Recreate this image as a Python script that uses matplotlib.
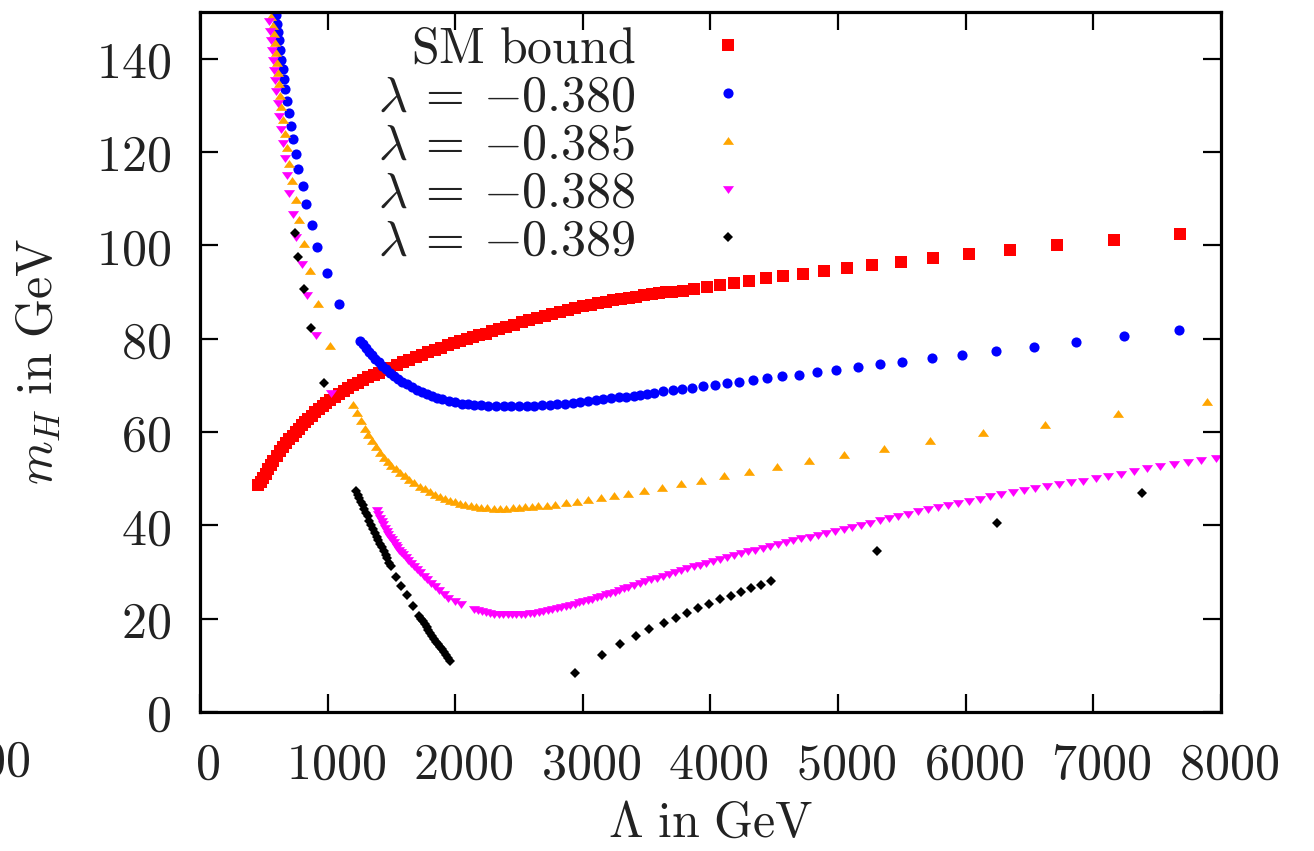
import numpy as np
import matplotlib
matplotlib.use("Agg")
import matplotlib.pyplot as plt
from matplotlib.ticker import FuncFormatter, MultipleLocator
from matplotlib.transforms import ScaledTranslation

plt.rcParams["mathtext.fontset"] = "cm"

# SM stability bound, m_H vs cutoff Lambda (GeV)
sm_lam = [455, 475, 495, 515, 535, 555, 575, 600, 625, 650, 675, 700, 725, 750,
          775, 800, 825, 850, 875, 900, 930, 960, 990, 1020, 1055, 1090, 1125,
          1160, 1200, 1240, 1280, 1320, 1360, 1400, 1445, 1490, 1540, 1590, 1640,
          1690, 1740, 1790, 1840, 1890, 1940, 1990, 2040, 2090, 2140, 2190, 2240,
          2290, 2340, 2400, 2460, 2520, 2580, 2640, 2700, 2760, 2820, 2880, 2940,
          3000, 3060, 3120, 3180, 3240, 3300, 3360, 3420, 3480, 3540, 3600, 3650,
          3700, 3786, 3873, 3975, 4077, 4187, 4304, 4438, 4570, 4726, 4889, 5072,
          5268, 5495, 5747, 6028, 6347, 6719, 7161, 7678]
sm_mh = [48.6, 49.3, 50.2, 51.1, 52.0, 52.9, 53.8, 54.9, 55.9, 56.8, 57.6, 58.4,
         59.2, 60.0, 60.7, 61.4, 62.1, 62.8, 63.5, 64.2, 64.9, 65.6, 66.3, 66.9,
         67.6, 68.2, 68.8, 69.4, 70.0, 70.6, 71.2, 71.7, 72.2, 72.7, 73.2, 73.7,
         74.3, 74.9, 75.5, 76.1, 76.6, 77.1, 77.6, 78.1, 78.6, 79.0, 79.4, 79.9,
         80.3, 80.7, 81.1, 81.6, 82.0, 82.5, 83.0, 83.5, 84.0, 84.5, 84.9, 85.3,
         85.7, 86.1, 86.5, 86.9, 87.2, 87.6, 87.9, 88.2, 88.5, 88.8, 89.0, 89.3,
         89.5, 89.7, 89.9, 90.0, 90.3, 90.7, 91.1, 91.6, 92.0, 92.4, 92.9, 93.4,
         93.9, 94.5, 95.1, 95.8, 96.4, 97.2, 98.1, 98.9, 100.1, 101.1, 102.4]

# lambda = -0.380
l380_lam = [595, 606, 613, 621, 629, 637, 648, 658, 669, 684, 697, 713, 731, 750,
            770, 805, 831, 877, 919, 995, 1092,
            1254, 1275, 1300, 1325, 1350, 1375, 1400, 1430, 1460, 1490, 1520, 1550,
            1585, 1620, 1660, 1700, 1740, 1780, 1820, 1860, 1900, 1950, 2000, 2050,
            2100, 2150, 2200, 2260, 2320, 2380, 2440, 2500, 2560, 2620, 2680, 2740,
            2800, 2860, 2920, 2980, 3040, 3100, 3160, 3220, 3280, 3340, 3400, 3450,
            3500, 3560, 3630, 3703, 3779, 3858, 3944, 4033, 4129, 4226, 4333, 4443,
            4564, 4694, 4836, 4987, 5152, 5327, 5503, 5734, 5973, 6239, 6533, 6863,
            7240, 7668]
l380_mh = [149.4, 147.5, 145.7, 143.9, 141.9, 139.8, 137.8, 135.7, 133.4, 130.9,
           128.4, 125.6, 122.8, 119.6, 116.4, 112.8, 108.9, 104.3, 99.6, 94.0, 87.5,
           79.6, 78.9, 78.0, 77.2, 76.4, 75.7, 75.0, 74.2, 73.4, 72.7, 72.0, 71.4,
           70.8, 70.2, 69.6, 69.0, 68.5, 68.1, 67.7, 67.3, 67.0, 66.7, 66.4, 66.1,
           65.9, 65.8, 65.7, 65.6, 65.5, 65.5, 65.5, 65.5, 65.6, 65.6, 65.7, 65.8,
           66.0, 66.1, 66.3, 66.5, 66.6, 66.8, 67.0, 67.2, 67.4, 67.6, 67.8, 68.0,
           68.2, 68.4, 68.7, 69.0, 69.3, 69.5, 69.8, 70.1, 70.4, 70.8, 71.2, 71.6,
           71.9, 72.3, 72.8, 73.3, 73.9, 74.5, 75.1, 75.8, 76.6, 77.4, 78.3, 79.3,
           80.5, 81.8]

# lambda = -0.385
l385_lam = [556, 569, 580, 588, 595, 603, 611, 619, 627, 637, 653, 669, 684, 700,
            723, 750, 778, 815, 862, 922, 1019,
            1201, 1230, 1260, 1290, 1320, 1350, 1380, 1410, 1440, 1470, 1500, 1535,
            1570, 1605, 1640, 1680, 1720, 1760, 1800, 1840, 1880, 1920, 1960, 2000,
            2040, 2080, 2120, 2160, 2200, 2250, 2300, 2350, 2400, 2450, 2500, 2550,
            2600, 2650, 2717, 2782, 2865, 2951, 3037, 3139, 3241, 3357, 3483, 3620,
            3770, 3925, 4107, 4303, 4523, 4769, 5047, 5359, 5719, 6132, 6622, 7195,
            7889]
l385_mh = [148.9, 147.1, 145.3, 143.4, 141.2, 139.1, 136.9, 134.6, 132.1, 129.7,
           126.9, 123.9, 120.9, 117.5, 113.7, 109.8, 105.5, 100.3, 94.4, 87.5, 78.5,
           65.8, 64.0, 62.3, 60.7, 59.3, 58.0, 56.8, 55.6, 54.5, 53.6, 52.8, 52.0,
           51.3, 50.5, 49.8, 49.0, 48.3, 47.7, 47.1, 46.6, 46.1, 45.6, 45.2, 44.9,
           44.6, 44.3, 44.1, 43.9, 43.8, 43.7, 43.6, 43.6, 43.6, 43.7, 43.8, 43.9,
           44.0, 44.1, 44.2, 44.4, 44.7, 45.1, 45.4, 45.8, 46.3, 46.8, 47.4, 48.1,
           48.8, 49.6, 50.5, 51.5, 52.6, 53.8, 55.0, 56.4, 58.0, 59.7, 61.6, 63.8,
           66.5]

# lambda = -0.388
l388_lam = [543, 551, 559, 567, 575, 582, 590, 598, 609, 622, 635, 650, 666, 684,
            700, 726, 755, 797, 838, 909, 1024,
            1384, 1397, 1410, 1423, 1436, 1449, 1462, 1476, 1489, 1503, 1517, 1532,
            1547, 1562, 1578, 1593, 1612, 1632, 1654, 1677, 1700, 1725, 1752, 1780,
            1810, 1842, 1875, 1910, 1947, 1995, 2048,
            2150, 2180, 2210, 2240, 2272, 2305, 2340, 2375, 2410, 2445, 2480, 2515,
            2550, 2586, 2620, 2655, 2690, 2725, 2760, 2795, 2830, 2865, 2900, 2935,
            2970, 3005, 3040, 3075, 3110, 3145, 3180, 3215, 3250, 3285, 3320, 3356,
            3400, 3445, 3490, 3535, 3580, 3625, 3672, 3720, 3768, 3817, 3867, 3917,
            3968, 4020, 4073, 4127, 4182, 4237, 4293, 4350, 4408, 4467, 4527, 4588,
            4650, 4713, 4777, 4842, 4908, 4975, 5043, 5112, 5182, 5253, 5325, 5398,
            5472, 5547, 5624, 5702, 5781, 5861, 5942, 6024, 6108, 6193, 6279, 6367,
            6456, 6546, 6637, 6730, 6824, 6920, 7017, 7116, 7216, 7317, 7420, 7524,
            7630, 7738, 7847, 7958]
l388_mh = [148.0, 146.0, 144.1, 141.9, 139.8, 137.6, 135.4, 133.0, 130.4, 127.8,
           124.9, 121.9, 118.7, 115.1, 111.2, 106.7, 101.8, 96.1, 89.4, 80.7, 68.3,
           43.2, 42.4, 41.6, 40.9, 40.2, 39.5, 38.8, 38.2, 37.6, 37.0, 36.4, 35.8,
           35.3, 34.8, 34.3, 33.8, 33.2, 32.6, 31.9, 31.2, 30.6, 29.9, 29.2, 28.5,
           27.7, 26.9, 26.1, 25.3, 24.5, 23.8, 23.2,
           22.0, 21.8, 21.6, 21.4, 21.3, 21.1, 21.0, 20.9, 20.9, 20.9, 20.9, 21.0,
           21.1, 21.2, 21.3, 21.5, 21.6, 21.8, 22.0, 22.2, 22.5, 22.7, 23.0, 23.2,
           23.5, 23.7, 24.0, 24.3, 24.6, 24.9, 25.2, 25.4, 25.8, 26.1, 26.5, 26.8,
           27.2, 27.6, 28.0, 28.4, 28.8, 29.2, 29.6, 30.0, 30.4, 30.8, 31.2, 31.6,
           32.0, 32.4, 32.8, 33.2, 33.6, 34.0, 34.4, 34.8, 35.2, 35.6, 36.0, 36.4,
           36.8, 37.2, 37.6, 38.0, 38.4, 38.8, 39.2, 39.7, 40.1, 40.6, 41.1, 41.6,
           42.0, 42.5, 43.0, 43.5, 43.9, 44.4, 44.8, 45.3, 45.7, 46.2, 46.7, 47.1,
           47.5, 47.9, 48.4, 48.8, 49.2, 49.6, 50.1, 50.6, 51.1, 51.7, 52.2, 52.7,
           53.1, 53.5, 53.9, 54.4]

# lambda = -0.389
l389_lam = [744, 770, 818, 873, 972,
            1222, 1235, 1248, 1262, 1275, 1288, 1301, 1314, 1328, 1342, 1356, 1370,
            1384, 1398, 1412, 1426, 1440, 1454, 1468, 1482, 1496,
            1536, 1573, 1619, 1666,
            1715, 1730, 1745, 1760, 1775, 1790, 1805, 1820, 1835, 1850, 1865, 1880,
            1895, 1910, 1925, 1940, 1960,
            2941, 3148, 3291, 3414, 3522, 3635, 3727, 3816, 3902, 3990, 4074, 4158,
            4239, 4320, 4398, 4476,
            5303, 6246, 7382]
l389_mh = [102.7, 97.4, 90.7, 82.3, 70.5,
           47.4, 46.6, 45.8, 45.0, 44.3, 43.5, 42.7, 41.9, 41.0, 40.1, 39.2, 38.4,
           37.6, 36.8, 36.0, 35.3, 34.5, 33.7, 32.9, 32.0, 31.2,
           28.9, 27.1, 25.1, 22.8,
           20.6, 20.0, 19.4, 18.8, 18.2, 17.5, 16.9, 16.3, 15.7, 15.1, 14.6, 14.0,
           13.4, 12.8, 12.2, 11.6, 10.9,
           8.3, 12.2, 14.5, 16.3, 17.7, 19.0, 20.2, 21.3, 22.2, 23.2, 24.2, 24.9,
           25.8, 26.5, 27.3, 28.1,
           34.6, 40.6, 46.9]

# gnuplot-like wide triangles
TRI_UP = [(-1, -0.6), (1, -0.6), (0, 0.8), (-1, -0.6)]
TRI_DOWN = [(-1, 0.6), (1, 0.6), (0, -0.8), (-1, 0.6)]

fig = plt.figure(figsize=(13.14, 8.51), dpi=100)
ax = fig.add_axes([0.1522, 0.1633, 0.7770, 0.8226])

kw = dict(linestyle="none", markeredgewidth=0)
ax.plot(sm_lam, sm_mh, marker="s", ms=8.2, color="#ff0000",
        label=r"$\mathrm{SM\ bound}$", **kw)
ax.plot(l380_lam, l380_mh, marker="o", ms=7.3, color="#0000ff",
        label=r"$\lambda\:=\:{-}0.380$", **kw)
ax.plot(l385_lam, l385_mh, marker=TRI_UP, ms=8.0, color="#ffa500",
        label=r"$\lambda\:=\:{-}0.385$", **kw)
ax.plot(l388_lam, l388_mh, marker=TRI_DOWN, ms=8.0, color="#ff00ff",
        label=r"$\lambda\:=\:{-}0.388$", **kw)
ax.plot(l389_lam, l389_mh, marker="D", ms=5.2, color="black",
        label=r"$\lambda\:=\:{-}0.389$", **kw)

ax.set_xlim(0, 8000)
ax.set_ylim(0, 150)
ax.xaxis.set_major_locator(MultipleLocator(1000))
ax.yaxis.set_major_locator(MultipleLocator(20))
fmt = FuncFormatter(lambda v, p: f"${int(round(v))}$")
ax.xaxis.set_major_formatter(fmt)
ax.yaxis.set_major_formatter(fmt)
ax.tick_params(direction="in", length=13, width=1.6, labelsize=36, pad=21,
               top=True, right=True, colors="black", labelcolor="#222222")
for s in ax.spines.values():
    s.set_linewidth(2.3)

shift = ScaledTranslation(8 / 100, 0, fig.dpi_scale_trans)
for lbl in ax.get_xticklabels():
    lbl.set_transform(lbl.get_transform() + shift)

ax.set_xlabel(r"$\Lambda\ \mathrm{in\ GeV}$", fontsize=36, labelpad=7, color="#222222")
ax.set_ylabel(r"$m_H\ \mathrm{in\ GeV}$", fontsize=36, labelpad=24, color="#222222")

# leftover label fragment at the left edge
fig.text(30 / 1314, 1 - 762 / 851, r"$1000$", ha="right", va="center",
         fontsize=36, color="#222222")

ax.legend(loc="upper right", bbox_to_anchor=(0.554, 0.982), markerfirst=False,
          frameon=False, fontsize=36, handlelength=1.5, handletextpad=1.1,
          labelspacing=0.0, borderpad=0, borderaxespad=0, labelcolor="#222222")

fig.savefig("out.png", dpi=100)
